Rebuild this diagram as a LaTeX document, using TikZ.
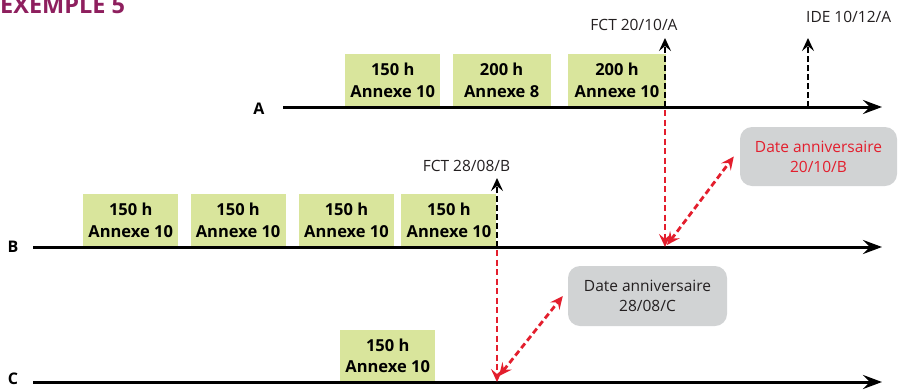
\documentclass[tikz,border=0pt]{standalone}
\usepackage{fontspec}
\setmainfont{Open Sans}
\usetikzlibrary{positioning,arrows.meta}

\definecolor{vertpale}{HTML}{D9E59C}
\definecolor{grisclair}{HTML}{D1D3D4}
\definecolor{rougedate}{HTML}{E31E2D}
\definecolor{prune}{HTML}{8E1F5E}
\definecolor{encre}{HTML}{231F20}

\tikzset{
  pointe/.tip={Stealth[length=13pt,width=12pt,inset=5pt]},
  axe/.style={line width=3pt, -{Stealth[length=19pt,width=14pt,inset=7pt]}},
  repere/.style={line width=2.6pt, dash pattern=on 6pt off 3pt, -pointe},
  renvoi/.style={rougedate, line width=2.8pt, dash pattern=on 6pt off 3.5pt},
  boite/.style={fill=vertpale, anchor=south west, minimum width=95pt, minimum height=53pt, inner sep=0pt, align=center, font=\fontsize{16.5}{21.5}\selectfont\bfseries},
  anniv/.style={fill=grisclair, rounded corners=12pt, align=center, inner sep=0pt, font=\fontsize{15.5}{20}\selectfont},
  etiq/.style={text=encre, font=\fontsize{15.5}{18}\selectfont, inner sep=0pt},
  ligne/.style={font=\fontsize{16}{18}\selectfont\bfseries, inner sep=0pt}
}

\begin{document}
\begin{tikzpicture}[x=1pt,y=-1pt]
\useasboundingbox (0,0) rectangle (901,389);
\def\ya{107}
\def\yb{247}
\def\yc{382}
\def\xd{33}
\def\xf{882}

\node[anchor=base west, inner sep=0pt, text=prune, font=\fontsize{23.5}{26}\selectfont\bfseries] (titre) at (0,13) {EXEMPLE 5};

\node[boite] (ha1) at (345,\ya) {150 h\\Annexe 10};
\node[boite, minimum width=98pt, right=12pt of ha1.south east, anchor=south west] (ha2) {200 h\\Annexe 8};
\node[boite, minimum width=98pt, right=17pt of ha2.south east, anchor=south west] (ha3) {200 h\\Annexe 10};

\node[boite] (hb1) at (83,\yb) {150 h\\Annexe 10};
\node[boite, right=12pt of hb1.south east, anchor=south west] (hb2) {150 h\\Annexe 10};
\node[boite, right=13pt of hb2.south east, anchor=south west] (hb3) {150 h\\Annexe 10};
\node[boite, right=7pt of hb3.south east, anchor=south west] (hb4) {150 h\\Annexe 10};

\node[boite, minimum height=52pt] (hc1) at (340,\yc) {150 h\\Annexe 10};

\node[ligne] (la) at (259,109) {A};
\node[ligne] (lb) at (13,\yb) {B};
\node[ligne] (lc) at (13,379) {C};

\coordinate (a0) at (283,\ya);
\coordinate (a1) at (\xf,\ya);
\coordinate (b0) at (\xd,\yb);
\coordinate (b1) at (\xf,\yb);
\coordinate (c0) at (\xd,\yc);
\coordinate (c1) at (\xf,\yc);
\draw[axe] (a0) -- (a1);
\draw[axe] (b0) -- (b1);
\draw[axe] (c0) -- (c1);

\coordinate (ta) at (665,\ya);
\coordinate (ia) at (808,\ya);
\coordinate (tb) at (497,\yb);
\coordinate (ra) at (665,\yb);
\coordinate (rb) at (497,\yc);
\coordinate (pa) at (665,38);
\coordinate (pi) at (808,38);
\coordinate (pb) at (497,178);

\node[etiq, anchor=base] (fcta) at (634,30) {FCT 20/10/A};
\node[etiq, anchor=base west] (idea) at (806,22) {IDE 10/12/A};
\node[etiq, anchor=base] (fctb) at (466.5,171) {FCT 28/08/B};

\draw[repere] (ta) -- (pa);
\draw[repere] (ia) -- (pi);
\draw[repere] (tb) -- (pb);

\node[anniv, text=rougedate, minimum width=157pt, minimum height=59pt] (da) at (818.5,156.5) {Date anniversaire\\20/10/B};
\node[anniv, text=encre, minimum width=159pt, minimum height=60pt] (dc) at (647.5,296) {Date anniversaire\\28/08/C};

\draw[renvoi, -pointe, shorten <=3pt] (ta) -- (ra);
\draw[renvoi, -pointe, shorten <=3pt] (tb) -- (rb);
\draw[renvoi, pointe-pointe] ([shift={(2pt,2pt)}]ra) -- ([xshift=-6pt]da.west);
\draw[renvoi, pointe-pointe] ([shift={(2pt,6pt)}]rb) -- ([xshift=-5pt]dc.west);
\end{tikzpicture}
\end{document}
